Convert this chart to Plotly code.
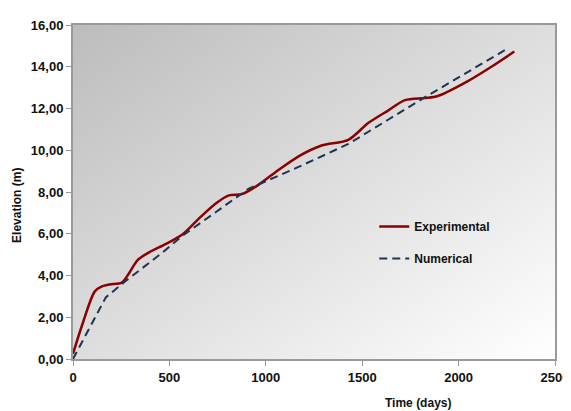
import base64
import plotly.graph_objects as go

# Data
exp_days = [0, 50, 113, 150, 190, 253, 290, 335, 397, 480, 567, 650, 742, 809, 876, 948,
            1050, 1170, 1289, 1428, 1531, 1634, 1722, 1825, 1892, 2046, 2170, 2289]
exp_elev = [0.25, 1.7, 3.24, 3.48, 3.57, 3.66, 4.1, 4.74, 5.12, 5.5, 5.96, 6.7, 7.46, 7.84, 7.9, 8.26,
            8.95, 9.71, 10.23, 10.5, 11.3, 11.9, 12.4, 12.5, 12.6, 13.3, 14.0, 14.73]

num_days = [0, 170, 268, 464, 567, 809, 912, 1170, 1428, 1634, 1840, 2250]
num_elev = [0.0, 2.95, 3.7, 5.1, 5.9, 7.46, 8.16, 9.2, 10.3, 11.46, 12.62, 14.85]

x_ticks = [0, 500, 1000, 1500, 2000, 2500]
y_ticks = [0, 2, 4, 6, 8, 10, 12, 14, 16]

FONT = "Liberation Sans, Arial, sans-serif"

svg = ('<svg xmlns="http://www.w3.org/2000/svg" width="100" height="100" preserveAspectRatio="none">'
       '<defs><linearGradient id="g" x1="0" y1="0" x2="1" y2="1">'
       '<stop offset="0" stop-color="#bcbcbc"/><stop offset="1" stop-color="#ffffff"/>'
       '</linearGradient></defs><rect width="100" height="100" fill="url(#g)"/></svg>')
bg_src = "data:image/svg+xml;base64," + base64.b64encode(svg.encode()).decode()

fig = go.Figure()
fig.add_trace(go.Scatter(
    x=exp_days, y=exp_elev, mode="lines", name="Experimental",
    line=dict(color="#8b0000", width=2.5, shape="spline", smoothing=0.8),
    legendgroup="a"))
fig.add_trace(go.Scatter(
    x=num_days, y=num_elev, mode="lines", name="Numerical",
    line=dict(color="#1f3350", width=2, dash="8px,5px"),
    legendgroup="b"))

fig.update_layout(
    width=571, height=411,
    margin=dict(l=65, r=21, t=10, b=60),
    paper_bgcolor="white",
    plot_bgcolor="rgba(0,0,0,0)",
    separators=",.",
    font=dict(family=FONT, size=13, color="#1a1a1a"),
    showlegend=True,
    legend=dict(x=0.625, y=0.44, xanchor="left", yanchor="top",
                bgcolor="rgba(0,0,0,0)", font=dict(size=12, family=FONT, color="#111"),
                tracegroupgap=13, traceorder="grouped", itemwidth=30),
    images=[dict(source=bg_src, xref="paper", yref="paper", x=0, y=1,
                 sizex=1, sizey=1, sizing="stretch", layer="below",
                 xanchor="left", yanchor="top")],
    xaxis=dict(range=[0, 2500], tickvals=x_ticks, tickformat="d",
               showgrid=False, zeroline=False, showline=True, linecolor="#9a9a9a",
               linewidth=2, mirror=True, ticks="outside", ticklen=5, tickcolor="#9a9a9a",
               ticklabeloverflow="allow",
               tickfont=dict(family=FONT, size=13, color="#111")),
    yaxis=dict(range=[0, 16], tickvals=y_ticks, tickformat=".2f",
               showgrid=False, zeroline=False, showline=True, linecolor="#9a9a9a",
               linewidth=2, mirror=True, ticks="outside", ticklen=5, tickcolor="#9a9a9a",
               tickfont=dict(family=FONT, size=13, color="#111")),
    annotations=[
        dict(text="<b>Time (days)</b>", xref="paper", yref="paper", x=0.715, y=-0.132,
             xanchor="center", yanchor="middle", showarrow=False,
             font=dict(family=FONT, size=12, color="#111")),
        dict(text="<b>Elevation (m)</b>", xref="paper", yref="paper", x=-0.115, y=0.46,
             xanchor="center", yanchor="middle", textangle=-90, showarrow=False,
             font=dict(family=FONT, size=12, color="#111")),
    ],
)
fig.update_xaxes(tickfont_weight="bold")
fig.update_yaxes(tickfont_weight="bold")
fig.update_layout(legend_font_weight="bold")

fig.write_html("out.html")
